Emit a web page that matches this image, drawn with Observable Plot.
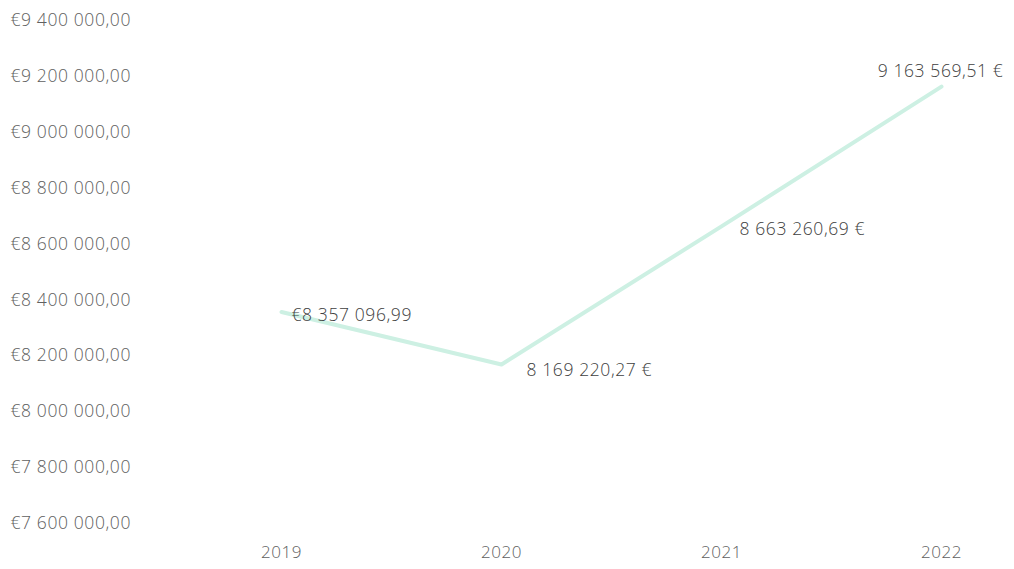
<!DOCTYPE html>
<html>
<head>
<meta charset="utf-8">
<script src="https://cdn.jsdelivr.net/npm/d3@7"></script>
<script src="https://cdn.jsdelivr.net/npm/@observablehq/plot@0.6"></script>
<style>
  html, body { margin: 0; padding: 0; background: #fff; }
  #chart svg { display: block; }
  #chart svg text { letter-spacing: 0.6px; }
</style>
</head>
<body>
<div id="chart"></div>
<script>
const years = ["2019", "2020", "2021", "2022"];
const values = [8357096.99, 8169220.27, 8663260.69, 9163569.51];
const pointLabels = ["€8 357 096,99", "8 169 220,27 €", "8 663 260,69 €", "9 163 569,51 €"];
const yTicks = [7600000, 7800000, 8000000, 8200000, 8400000, 8600000, 8800000, 9000000, 9200000, 9400000];

const data = years.map((y, i) => ({year: y, value: values[i], label: pointLabels[i], i}));

const loc = d3.formatLocale({decimal: ",", thousands: " ", grouping: [3], currency: ["€", ""]});
const fmtY = loc.format("$,.2f");

const font = "'Open Sans', sans-serif";

const labelPos = [
  {dx: 10, dy: 3, anchor: "start"},
  {dx: 25, dy: 6, anchor: "start"},
  {dx: 18, dy: 3, anchor: "start"},
  {dx: -1, dy: -15, anchor: "middle"}
];

const chart = Plot.plot({
  width: 1014,
  height: 569,
  marginLeft: 10,
  marginRight: 10,
  marginTop: 10,
  marginBottom: 46,
  style: {fontFamily: font, fontSize: "17px", color: "#595959", background: "#fff"},
  x: {type: "point", domain: years, range: [281, 941], padding: 0, label: null},
  y: {domain: [7600000, 9400000], range: [523, 20], label: null},
  marks: [
    Plot.axisY({ticks: yTicks, tickFormat: fmtY, tickSize: 0, tickPadding: 0, textAnchor: "start", fill: "#606060", fontWeight: 300, fontSize: 17.5}),
    Plot.axisX({tickSize: 0, tickPadding: 22, fill: "#606060", fontWeight: 300, fontSize: 17}),
    Plot.line(data, {x: "year", y: "value", stroke: "#cdf0e3", strokeWidth: 4}),
    ...labelPos.map((p, k) => Plot.text(data.filter(d => d.i === k), {
      x: "year", y: "value", text: "label", dx: p.dx, dy: p.dy,
      textAnchor: p.anchor, fill: "#404040", fontSize: 17.5, fontWeight: 300
    }))
  ]
});
document.getElementById("chart").appendChild(chart);
</script>
</body>
</html>
